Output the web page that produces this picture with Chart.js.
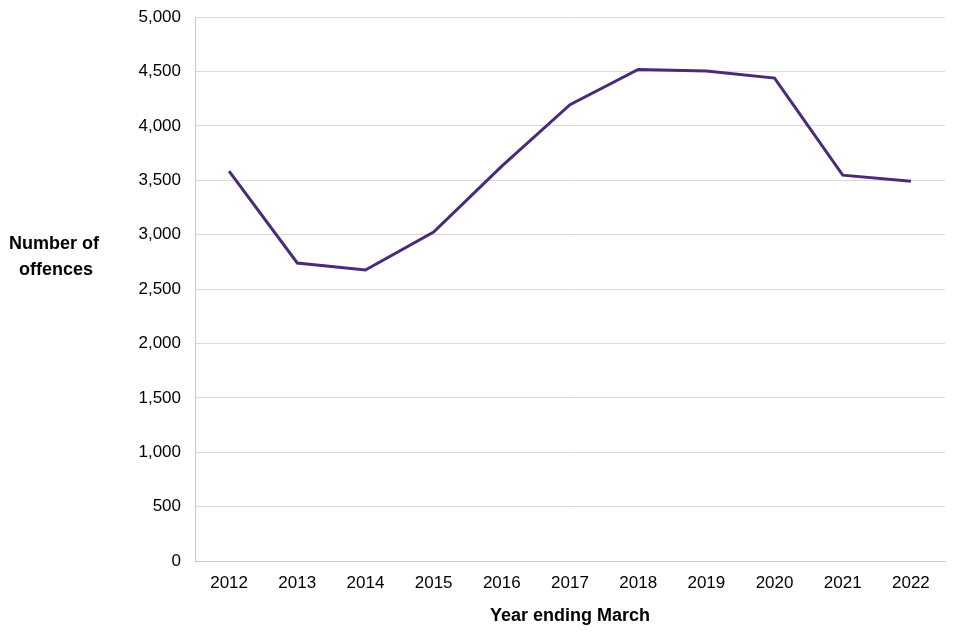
<!DOCTYPE html>
<html>
<head>
<meta charset="utf-8">
<script src="https://cdn.jsdelivr.net/npm/chart.js@4/dist/chart.umd.min.js"></script>
<style>
  html, body { margin: 0; padding: 0; background: #fff; overflow: hidden; }
  #wrap { position: relative; width: 960px; height: 640px; overflow: hidden; }
  #offencesChart { position: absolute; left: 0; top: -7px; }
</style>
</head>
<body>
<div id="wrap"><canvas id="offencesChart" width="960" height="647"></canvas></div>
<script>
const years = ["2012", "2013", "2014", "2015", "2016", "2017", "2018", "2019", "2020", "2021", "2022"];
const offences = [3585, 2740, 2675, 3025, 3630, 4195, 4520, 4505, 4440, 3548, 3492];
const yTitleLines = ["Number of", "offences"];
const xTitle = "Year ending March";

const fontFamily = "'Liberation Sans', Arial, sans-serif";

// y axis title sits horizontally to the left of the tick labels
const sideTitle = {
  id: "sideTitle",
  afterDraw(chart) {
    const ctx = chart.ctx;
    ctx.save();
    ctx.font = "bold 18px " + fontFamily;
    ctx.fillStyle = "#000";
    ctx.textAlign = "center";
    ctx.textBaseline = "middle";
    ctx.fillText(yTitleLines[0], 54, 251);
    ctx.fillText(yTitleLines[1], 56, 277);
    ctx.restore();
  },
};

const ctx = document.getElementById("offencesChart").getContext("2d");
new Chart(ctx, {
  type: "line",
  data: {
    labels: years,
    datasets: [
      {
        label: "Offences",
        data: offences,
        borderColor: "#4B2A78",
        borderWidth: 3,
        pointRadius: 0,
        tension: 0,
        fill: false,
      },
    ],
  },
  options: {
    responsive: false,
    animation: false,
    layout: { padding: { top: 0, right: 15, left: 0, bottom: 13 } },
    plugins: {
      legend: { display: false },
      tooltip: { enabled: false },
    },
    scales: {
      x: {
        offset: true,
        grid: { display: false, drawTicks: false, offset: true },
        border: { color: "#c8c8c8", width: 1 },
        ticks: {
          color: "#000",
          font: { family: fontFamily, size: 17 },
          padding: 12,
          maxRotation: 0,
        },
        title: {
          display: true,
          text: xTitle,
          color: "#000",
          font: { family: fontFamily, size: 18, weight: "bold" },
          padding: { top: 11, bottom: 0 },
        },
        afterFit(scale) {
          scale.height = 66;
        },
      },
      y: {
        min: 0,
        max: 5000,
        grid: { color: "#d9d9d9", drawTicks: false },
        border: { color: "#c8c8c8", width: 1 },
        ticks: {
          stepSize: 500,
          color: "#000",
          font: { family: fontFamily, size: 17 },
          padding: 14,
          callback: (v) => v.toLocaleString("en-GB"),
        },
        afterFit(scale) {
          scale.width = 195;
        },
      },
    },
  },
  plugins: [sideTitle],
});
</script>
</body>
</html>
